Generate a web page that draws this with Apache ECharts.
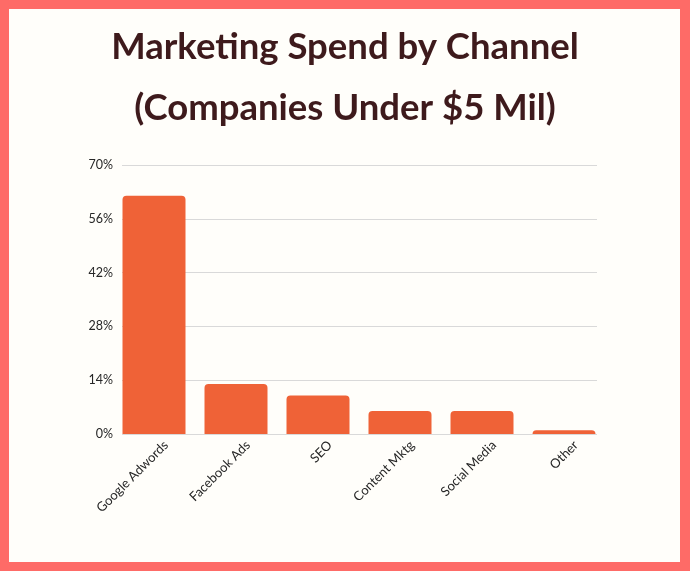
<!DOCTYPE html>
<html>
<head>
<meta charset="utf-8">
<script src="https://cdn.jsdelivr.net/npm/echarts@6/dist/echarts.min.js"></script>
<style>
html,body{margin:0;padding:0;background:#FE6B67;}
#chart{width:690px;height:571px;}
</style>
</head>
<body>
<div id="chart"></div>
<script>
const titleLines = ['Marketing Spend by Channel', '(Companies Under $5 Mil)'];
const categories = ['Google Adwords', 'Facebook Ads', 'SEO', 'Content Mktg', 'Social Media', 'Other'];
const spendPct = [62, 13, 10, 6, 6, 1];
const yTicks = [0, 14, 28, 42, 56, 70];

const chart = echarts.init(document.getElementById('chart'), null, {renderer: 'canvas'});
const labelColor = '#262626';
const titleStyle = {fontFamily: 'Lato', fontWeight: 'bold', fontSize: 36.5, lineHeight: 36, color: '#3E1A1C'};
const option = {
  backgroundColor: '#FE6B67',
  animation: false,
  graphic: [{
    type: 'rect', z: -10, silent: true,
    shape: {x: 9, y: 9, width: 671, height: 553},
    style: {fill: '#FFFEFA'}
  }],
  title: [
    {text: titleLines[0], left: 'center', top: 29, padding: 0, textStyle: titleStyle},
    {text: titleLines[1], left: 'center', top: 90, padding: 0, textStyle: titleStyle}
  ],
  grid: [
    {left: 113, right: 85, top: 165, bottom: 137},   // bars
    {left: 122, right: 93, top: 165, bottom: 137},   // gridlines + y labels
    {left: 125, right: 73, top: 165, bottom: 137}    // x labels
  ],
  xAxis: [
    {type: 'category', gridIndex: 0, data: categories, axisLine: {show: false}, axisTick: {show: false}, axisLabel: {show: false}},
    {type: 'value', gridIndex: 1, show: false, min: 0, max: 1},
    {type: 'category', gridIndex: 2, data: categories, axisLine: {show: false}, axisTick: {show: false},
     axisLabel: {rotate: 45, interval: 0, margin: 9, fontFamily: 'Lato', fontSize: 13, color: labelColor}}
  ],
  yAxis: [
    {type: 'value', gridIndex: 0, min: 0, max: 70, interval: 14, show: false},
    {type: 'value', gridIndex: 1, min: 0, max: 70, interval: 14,
     axisLine: {show: false}, axisTick: {show: false},
     splitLine: {lineStyle: {color: '#D9D9D9', width: 1}},
     axisLabel: {margin: 9, fontFamily: 'Lato', fontSize: 12.5, color: labelColor,
       formatter: v => yTicks.includes(v) ? v + '%' : ''}},
    {type: 'value', gridIndex: 2, min: 0, max: 70, show: false}
  ],
  series: [{
    type: 'bar', xAxisIndex: 0, yAxisIndex: 0, data: spendPct, barWidth: 63, z: 3,
    itemStyle: {color: '#EF6237', borderRadius: [4, 4, 0, 0]}
  }]
};
chart.setOption(option);
</script>
</body>
</html>
